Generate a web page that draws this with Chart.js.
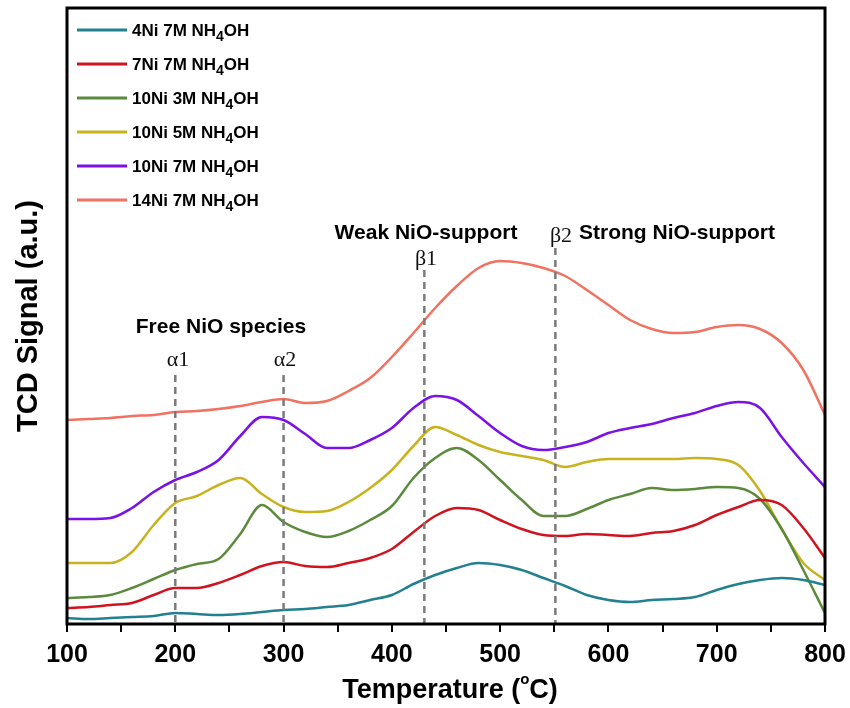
<!DOCTYPE html>
<html>
<head>
<meta charset="utf-8">
<title>TPR profiles</title>
<script src="https://cdn.jsdelivr.net/npm/chart.js@4.4.1/dist/chart.umd.min.js"></script>
<style>
    html, body { margin: 0; padding: 0; background: #fff; }
    #wrap { width: 850px; height: 708px; position: relative; }
</style>
</head>
<body>
<div id="wrap"><canvas id="tprChart"></canvas></div>
<script>
// temperature grid (°C)
const temperatures = [100, 120, 140, 160, 180, 200, 220, 240, 260, 280, 300, 320, 340, 360, 380, 400, 420, 440,
    460, 480, 500, 520, 540, 560, 580, 600, 620, 640, 660, 680, 700, 720, 740, 760, 780, 800];

// TCD signal, stacked offsets (a.u.)
const ni4_7M  = [6, 5, 6, 7, 8, 11, 10, 9, 10, 12, 14, 15, 17, 19, 24, 29, 40, 49,
    56, 61, 59, 54, 46, 38, 29, 24, 22, 24, 25, 27, 34, 40, 44, 46, 44, 39];
const ni7_7M  = [16, 17, 19, 21, 29, 36, 36, 41, 49, 58, 62, 58, 57, 61, 66, 75, 92, 108,
    116, 114, 104, 95, 89, 88, 90, 89, 88, 91, 93, 99, 109, 117, 124, 119, 96, 66];
const ni10_3M = [26, 27, 29, 36, 45, 54, 60, 65, 90, 119, 102, 92, 87, 93, 104, 118, 146, 166,
    176, 164, 144, 124, 108, 108, 115, 124, 130, 136, 134, 135, 137, 136, 125, 95, 54, 11];
const ni10_5M = [61, 61, 61, 72, 99, 121, 128, 139, 146, 130, 117, 112, 113, 122, 136, 154, 178, 197,
    189, 179, 172, 168, 164, 157, 162, 165, 165, 165, 165, 166, 165, 159, 133, 95, 61, 44];
const ni10_7M = [105, 105, 106, 116, 132, 144, 152, 164, 188, 207, 204, 190, 176, 176, 184, 196, 216, 228,
    224, 208, 191, 178, 174, 177, 182, 191, 196, 200, 206, 211, 218, 222, 216, 187, 161, 137];
const ni14_7M = [204, 205, 206, 208, 209, 212, 213, 215, 218, 222, 225, 221, 223, 233, 246, 267, 291, 316,
    338, 356, 363, 361, 356, 348, 334, 319, 304, 295, 291, 292, 297, 299, 295, 281, 254, 209];

const seriesNames  = ['4Ni 7M NH', '7Ni 7M NH', '10Ni 3M NH', '10Ni 5M NH', '10Ni 7M NH', '14Ni 7M NH'];
const seriesValues = [ni4_7M, ni7_7M, ni10_3M, ni10_5M, ni10_7M, ni14_7M];
const seriesColors = ['#22808f', '#d0141f', '#5b8a3c', '#c8b21e', '#7a12e6', '#f07262'];

// reduction regions: marker temperature and its label
const markerTemps  = [200, 300, 430, 551];
const markerLabels = ['\u03b11', '\u03b12', '\u03b21', '\u03b22'];

const xTicks = [100, 200, 300, 400, 500, 600, 700, 800];

const SANS = '"Liberation Sans", Arial, sans-serif';

function toPoints(values) {
    return values.map((v, i) => ({ x: temperatures[i], y: v }));
}

// frame, dashed markers, annotations, legend and axis titles
const decorPlugin = {
    id: 'decor',
    afterDatasetsDraw(chart) {
        const { ctx, chartArea: a, scales } = chart;
        const xs = scales.x;

        // dashed guide lines
        const tops = [375, 375, 270, 248];
        ctx.save();
        ctx.strokeStyle = '#7a7a7a';
        ctx.lineWidth = 2.5;
        ctx.setLineDash([7, 5]);
        markerTemps.forEach((t, i) => {
            const px = xs.getPixelForValue(t);
            ctx.beginPath();
            ctx.moveTo(px, tops[i]);
            ctx.lineTo(px, a.bottom);
            ctx.stroke();
        });
        ctx.restore();

        // greek labels
        ctx.save();
        ctx.fillStyle = '#111';
        ctx.font = '22px "Liberation Serif", "Times New Roman", serif';
        ctx.textAlign = 'center';
        ctx.textBaseline = 'alphabetic';
        const gx = [178, 285, 426, 561];
        const gy = [366, 366, 265, 242];
        markerLabels.forEach((s, i) => ctx.fillText(s, gx[i], gy[i]));

        ctx.font = 'bold 21px ' + SANS;
        ctx.fillStyle = '#000';
        ctx.fillText('Free NiO species', 221, 333);
        ctx.fillText('Weak NiO-support', 426, 239);
        ctx.textAlign = 'left';
        ctx.fillText('Strong NiO-support', 579, 239);
        ctx.restore();

        // legend
        ctx.save();
        seriesNames.forEach((name, i) => {
            const y = 30 + i * 34;
            ctx.strokeStyle = seriesColors[i];
            ctx.lineWidth = 3;
            ctx.beginPath();
            ctx.moveTo(77, y);
            ctx.lineTo(127, y);
            ctx.stroke();

            ctx.fillStyle = '#000';
            ctx.textBaseline = 'alphabetic';
            ctx.textAlign = 'left';
            ctx.font = 'bold 17px ' + SANS;
            let x = 132;
            ctx.fillText(name, x, y + 6);
            x += ctx.measureText(name).width;
            ctx.font = 'bold 14px ' + SANS;
            ctx.fillText('4', x, y + 11);
            x += ctx.measureText('4').width;
            ctx.font = 'bold 17px ' + SANS;
            ctx.fillText('OH', x, y + 6);
        });
        ctx.restore();

        // plot frame
        ctx.save();
        ctx.strokeStyle = '#000';
        ctx.lineWidth = 3;
        ctx.strokeRect(a.left, a.top, a.right - a.left, a.bottom - a.top);
        ctx.restore();

        // y title
        ctx.save();
        ctx.translate(29, (a.top + a.bottom) / 2);
        ctx.rotate(-Math.PI / 2);
        ctx.font = 'bold 29px ' + SANS;
        ctx.fillStyle = '#000';
        ctx.textAlign = 'center';
        ctx.textBaseline = 'middle';
        ctx.fillText('TCD Signal (a.u.)', 0, 0);
        ctx.restore();

        // x title with superscript degree
        ctx.save();
        ctx.fillStyle = '#000';
        ctx.textBaseline = 'alphabetic';
        const big = 'bold 27px ' + SANS;
        const small = 'bold 15px ' + SANS;
        ctx.font = big;
        const p1 = 'Temperature (', p3 = 'C)';
        const w1 = ctx.measureText(p1).width, w3 = ctx.measureText(p3).width;
        ctx.font = small;
        const w2 = ctx.measureText('o').width;
        let tx = 450 - (w1 + w2 + w3) / 2;
        ctx.font = big;
        ctx.fillText(p1, tx, 698);
        tx += w1;
        ctx.font = small;
        ctx.fillText('o', tx, 684);
        tx += w2;
        ctx.font = big;
        ctx.fillText(p3, tx, 698);
        ctx.restore();
    }
};

function initChart() {
    const ctx = document.getElementById('tprChart').getContext('2d');
    new Chart(ctx, {
        type: 'line',
        data: {
            datasets: seriesValues.map((vals, i) => ({
                label: seriesNames[i] + '4OH',
                data: toPoints(vals),
                borderColor: seriesColors[i],
                backgroundColor: seriesColors[i],
                borderWidth: 2.5,
                pointRadius: 0,
                tension: 0.4,
                cubicInterpolationMode: 'monotone',
                fill: false
            }))
        },
        options: {
            responsive: true,
            maintainAspectRatio: false,
            animation: false,
            devicePixelRatio: 1,
            layout: { padding: { left: 67, right: 25, top: 8, bottom: 0 } },
            plugins: {
                legend: { display: false },
                tooltip: { enabled: false }
            },
            scales: {
                x: {
                    type: 'linear',
                    min: 100,
                    max: 800,
                    afterFit: (scale) => {
                        scale.height = 84;
                        scale.paddingLeft = 0;
                        scale.paddingRight = 0;
                    },
                    ticks: {
                        stepSize: 50,
                        autoSkip: false,
                        maxRotation: 0,
                        padding: 8,
                        color: '#000',
                        font: { family: SANS, size: 25, weight: 'bold' },
                        callback: (v) => xTicks.includes(v) ? String(v) : ''
                    },
                    grid: {
                        drawOnChartArea: false,
                        drawTicks: true,
                        tickLength: 8,
                        color: '#000',
                        lineWidth: 2
                    },
                    border: { display: false }
                },
                y: {
                    display: false,
                    min: 0,
                    max: 616
                }
            }
        },
        plugins: [decorPlugin]
    });
}

document.addEventListener('DOMContentLoaded', initChart);
</script>
</body>
</html>
